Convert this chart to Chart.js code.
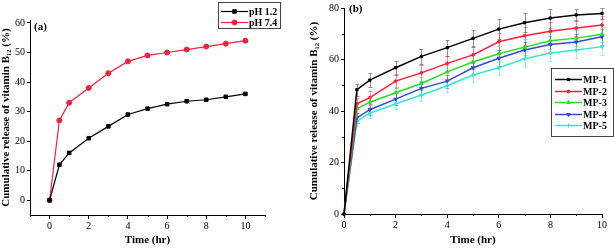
<!DOCTYPE html>
<html>
<head>
<meta charset="utf-8">
<script src="https://cdn.jsdelivr.net/npm/chart.js@4.4.1/dist/chart.umd.min.js"></script>
<style>
	html, body { margin: 0; padding: 0; background: #fff; }
	#wrap { position: relative; width: 614px; height: 249px; overflow: hidden; }
	canvas { position: absolute; top: 0; }
	#chart-a { left: 0; }
	#chart-b { left: 305px; }
</style>
</head>
<body>
<div id="wrap">
	<canvas id="chart-a" width="305" height="249"></canvas>
	<canvas id="chart-b" width="309" height="249"></canvas>
</div>
<script>
(function () {
	'use strict';

	// --- Data ---

	const timeHr = [0, 0.5, 1, 2, 3, 4, 5, 6, 7, 8, 9, 10];

	// panel (a)
	const ph12 = [0, 12, 16, 21, 25, 29, 31, 32.5, 33.5, 34, 35, 36];
	const ph74 = [0, 27, 33, 38, 43, 47, 49, 50, 51, 52, 53, 54];

	// panel (b)
	const mp1 = [0, 48.3, 52, 56.8, 61.2, 64.6, 68.2, 71.8, 74.3, 76.1, 77.3, 77.9];
	const mp2 = [0, 42.8, 45.2, 51.6, 54.8, 58.5, 61.8, 66.9, 69.2, 71, 72.2, 73.4];
	const mp3 = [0, 40.9, 43.4, 47.1, 50.7, 55.2, 59, 62.2, 64.8, 67.3, 68.3, 69.8];
	const mp4 = [0, 37.3, 40.5, 44.6, 48.8, 51.6, 56.8, 60.5, 63.7, 65.8, 66.8, 68.8];
	const mp5 = [0, 36, 39.2, 42.7, 46.2, 49.8, 54, 56.8, 60.3, 62.5, 63.7, 65];

	const mp1Err = [0, 2.3, 2.6, 2.8, 3, 3.1, 3.3, 3.8, 3.8, 3.7, 2.4, 2.2];
	const mp2Err = [0, 2.2, 2.4, 2.6, 3, 3, 3.3, 3.4, 3.6, 3.5, 3.2, 3.5];
	const mp3Err = [0, 1.8, 2, 2.2, 2.5, 2.7, 2.8, 3, 3.2, 3.2, 3, 3];
	const mp4Err = [0, 1.8, 2, 2.2, 2.4, 2.5, 2.8, 3, 3.2, 3.3, 3, 3.2];
	const mp5Err = [0, 1.8, 2, 2, 2.3, 2.4, 2.7, 2.9, 3.1, 3.2, 3, 3.3];

	// ticks
	const xMajor = [0, 2, 4, 6, 8, 10];
	const xMinorA = [-1, 1, 3, 5, 7, 9, 11];
	const xMinorB = [1, 3, 5, 7, 9];
	const yMajorA = [0, 10, 20, 30, 40, 50, 60];
	const yMajorB = [0, 20, 40, 60, 80];
	const yMinorB = [10, 30, 50, 70];

	const Y_TITLE = 'Cumulative release of vitamin B\u2081\u2082 (%)';
	const X_TITLE = 'Time (hr)';
	const SERIF = "'Liberation Serif', 'Times New Roman', serif";

	// --- Plugins ---

	const minorTicks = {
		id: 'minorTicks',
		afterDraw(chart, args, opts) {
			const { ctx, chartArea, scales } = chart;
			ctx.save();
			ctx.strokeStyle = '#000';
			ctx.lineWidth = 1;
			ctx.beginPath();
			(opts.x || []).forEach(v => {
				const px = Math.round(scales.x.getPixelForValue(v)) + 0.5;
				ctx.moveTo(px, chartArea.bottom);
				ctx.lineTo(px, chartArea.bottom + opts.len);
			});
			(opts.y || []).forEach(v => {
				const py = Math.round(scales.y.getPixelForValue(v)) + 0.5;
				ctx.moveTo(chartArea.left, py);
				ctx.lineTo(chartArea.left - opts.len, py);
			});
			ctx.stroke();
			ctx.restore();
		},
	};

	const errorBars = {
		id: 'errorBars',
		beforeDatasetsDraw(chart, args, opts) {
			const { ctx, scales } = chart;
			chart.data.datasets.forEach(ds => {
				if (!ds.errors) return;
				ctx.save();
				ctx.strokeStyle = ds.errorColor;
				ctx.lineWidth = 1;
				ctx.beginPath();
				ds.data.forEach((p, j) => {
					const e = ds.errors[j];
					if (!e) return;
					const x = Math.round(scales.x.getPixelForValue(p.x)) + 0.5;
					const y0 = Math.round(scales.y.getPixelForValue(p.y - e)) + 0.5;
					const y1 = Math.round(scales.y.getPixelForValue(p.y + e)) + 0.5;
					ctx.moveTo(x, y0);
					ctx.lineTo(x, y1);
					ctx.moveTo(x - opts.cap, y0);
					ctx.lineTo(x + opts.cap, y0);
					ctx.moveTo(x - opts.cap, y1);
					ctx.lineTo(x + opts.cap, y1);
				});
				ctx.stroke();
				ctx.restore();
			});
		},
	};

	const boxLegend = {
		id: 'boxLegend',
		afterDraw(chart, args, opts) {
			const ctx = chart.ctx;
			ctx.save();
			ctx.strokeStyle = '#444';
			ctx.lineWidth = 1;
			ctx.strokeRect(opts.x + 0.5, opts.y + 0.5, opts.w, opts.h);
			ctx.font = 'bold ' + opts.fontSize + 'px ' + SERIF;
			ctx.textBaseline = 'middle';
			ctx.fillStyle = '#000';
			chart.data.datasets.forEach((ds, i) => {
				const y = Math.round(opts.y + opts.first + i * opts.step) + 0.5;
				const x0 = opts.x + opts.line0;
				const x1 = opts.x + opts.line1;
				ctx.strokeStyle = ds.borderColor;
				ctx.lineWidth = opts.lineWidth;
				ctx.beginPath();
				ctx.moveTo(x0, y);
				ctx.lineTo(x1, y);
				ctx.stroke();
				ctx.fillStyle = ds.pointBackgroundColor;
				ctx.lineWidth = 1;
				Chart.helpers.drawPoint(ctx, {
					pointStyle: ds.pointStyle,
					radius: ds.pointRadius,
					rotation: ds.pointRotation || 0,
					borderWidth: 1,
				}, (x0 + x1) / 2, y);
				ctx.fillStyle = '#000';
				ctx.fillText(ds.label, x1 + 1, y + 0.5);
			});
			ctx.restore();
		},
	};

	// --- Helpers ---

	function toPoints(values) {
		return values.map((v, i) => ({ x: timeHr[i], y: v }));
	}

	function series(label, values, color, style, radius, extra) {
		return Object.assign({
			label: label,
			data: toPoints(values),
			borderColor: color,
			backgroundColor: color,
			pointBackgroundColor: color,
			pointBorderColor: color,
			pointStyle: style,
			pointRadius: radius,
			pointBorderWidth: 1,
			tension: 0,
			clip: false,
		}, extra || {});
	}

	function makeScales(cfg) {
		const keep = list => scale => {
			scale.ticks = list.map(v => ({ value: v }));
		};
		return {
			x: {
				type: 'linear',
				min: cfg.xMin,
				max: cfg.xMax,
				afterBuildTicks: keep(xMajor),
				afterFit: s => { s.height = cfg.xHeight; },
				border: { display: true, color: '#000', width: 1 },
				grid: { display: true, drawOnChartArea: false, drawTicks: true, tickLength: 4, color: '#000' },
				ticks: { color: '#000', font: { family: SERIF, size: 10 }, padding: 1, maxRotation: 0 },
				title: {
					display: true,
					text: X_TITLE,
					color: '#000',
					font: { family: SERIF, size: 11, weight: 'bold' },
					padding: { top: 0, bottom: 2 },
				},
			},
			y: {
				type: 'linear',
				min: cfg.yMin,
				max: cfg.yMax,
				afterBuildTicks: keep(cfg.yMajor),
				afterFit: s => { s.width = cfg.yWidth; },
				border: { display: true, color: '#000', width: 1 },
				grid: { display: true, drawOnChartArea: false, drawTicks: true, tickLength: 3, color: '#000' },
				ticks: { color: '#000', font: { family: SERIF, size: 10 }, padding: 2 },
				title: {
					display: true,
					text: Y_TITLE,
					color: '#000',
					font: { family: SERIF, size: 11, weight: 'bold' },
					padding: { top: cfg.yTitlePad, bottom: 0 },
				},
			},
		};
	}

	const panelLabel = {
		id: 'panelLabel',
		afterDraw(chart, args, opts) {
			const ctx = chart.ctx;
			ctx.save();
			ctx.font = 'bold 11px ' + SERIF;
			ctx.fillStyle = '#000';
			ctx.textBaseline = 'middle';
			ctx.fillText(opts.text, opts.x, opts.y);
			ctx.restore();
		},
	};

	// --- Charts ---

	function createChartA() {
		new Chart(document.getElementById('chart-a'), {
			type: 'line',
			data: {
				datasets: [
					series('pH 1.2', ph12, '#000000', 'rect', 2.5, { borderWidth: 1.2 }),
					series('pH 7.4', ph74, '#f5203f', 'circle', 2.5, { borderWidth: 1.2 }),
				],
			},
			options: {
				responsive: false,
				animation: false,
				layout: { padding: { left: 0, right: 40, top: 20, bottom: 0 } },
				scales: makeScales({
					xMin: -1, xMax: 11, yMin: -5, yMax: 61,
					yMajor: yMajorA, yWidth: 30, xHeight: 34, yTitlePad: 0,
				}),
				plugins: {
					legend: { display: false },
					tooltip: { enabled: false },
					minorTicks: { x: xMinorA, y: [], len: 2 },
					boxLegend: { x: 218, y: 2, w: 62, h: 26, first: 8.5, step: 11, line0: 3, line1: 30, lineWidth: 1.2, fontSize: 10 },
					panelLabel: { text: '(a)', x: 34, y: 27 },
				},
			},
			plugins: [minorTicks, boxLegend, panelLabel],
		});
	}

	function createChartB() {
		const errColor = c => c + '80';
		new Chart(document.getElementById('chart-b'), {
			type: 'line',
			data: {
				datasets: [
					series('MP-1', mp1, '#000000', 'rect', 1.6, { borderWidth: 1.5, errors: mp1Err, errorColor: '#555555a0' }),
					series('MP-2', mp2, '#ff1f3c', 'circle', 1.4, { borderWidth: 1.5, errors: mp2Err, errorColor: errColor('#ff1f3c') }),
					series('MP-3', mp3, '#22e022', 'triangle', 2, { borderWidth: 1.5, errors: mp3Err, errorColor: errColor('#22e022') }),
					series('MP-4', mp4, '#3548dc', 'triangle', 2, { borderWidth: 1.5, pointRotation: 180, errors: mp4Err, errorColor: errColor('#3548dc') }),
					series('MP-5', mp5, '#33e8d0', 'cross', 2, { borderWidth: 1.5, pointBorderWidth: 1.5, errors: mp5Err, errorColor: errColor('#33e8d0') }),
				],
			},
			options: {
				responsive: false,
				animation: false,
				layout: { padding: { left: 0, right: 12, top: 5, bottom: 0 } },
				scales: makeScales({
					xMin: 0, xMax: 10, yMin: 0, yMax: 80,
					yMajor: yMajorB, yWidth: 39, xHeight: 35, yTitlePad: 3,
				}),
				plugins: {
					legend: { display: false },
					tooltip: { enabled: false },
					minorTicks: { x: xMinorB, y: yMinorB, len: 2 },
					errorBars: { cap: 2 },
					boxLegend: { x: 246, y: 68, w: 62, h: 68, first: 11, step: 11.5, line0: 4, line1: 31, lineWidth: 1.5, fontSize: 10 },
					panelLabel: { text: '(b)', x: 44, y: 9 },
				},
			},
			plugins: [minorTicks, errorBars, boxLegend, panelLabel],
		});
	}

	Chart.defaults.font.family = SERIF;
	Chart.defaults.color = '#000';

	createChartA();
	createChartB();
})();
</script>
</body>
</html>
